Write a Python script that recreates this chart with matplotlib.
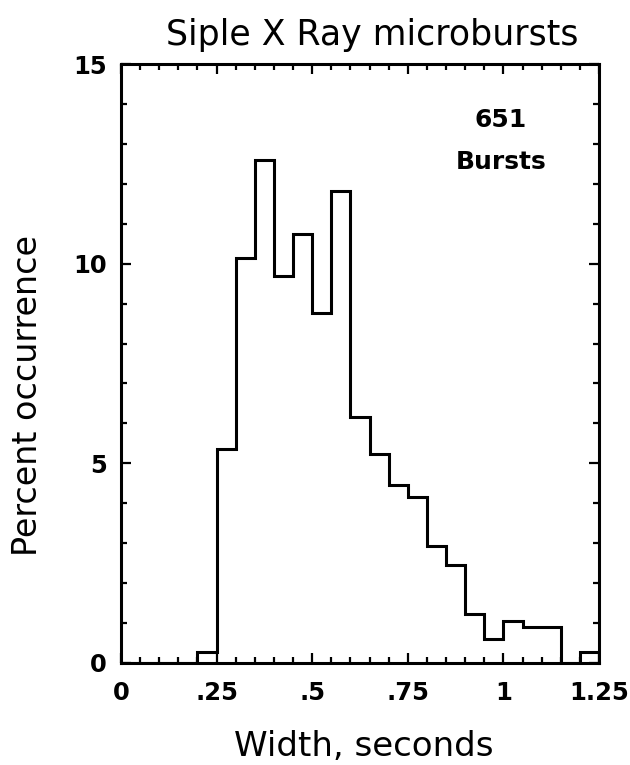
import matplotlib
matplotlib.use("Agg")
import matplotlib.pyplot as plt
from matplotlib.ticker import MultipleLocator, FixedLocator

plt.rcParams['font.family'] = ['DejaVu Sans']

bin_edges = [0.0, 0.05, 0.10, 0.15, 0.20, 0.25, 0.30, 0.35, 0.40, 0.45, 0.50,
             0.55, 0.60, 0.65, 0.70, 0.75, 0.80, 0.85, 0.90, 0.95, 1.00,
             1.05, 1.10, 1.15, 1.20, 1.25]
percent = [0.0, 0.0, 0.0, 0.0, 0.28, 5.35, 10.15, 12.6, 9.7, 10.75, 8.77,
           11.83, 6.15, 5.23, 4.46, 4.16, 2.92, 2.46, 1.22, 0.59, 1.04,
           0.9, 0.9, 0.0, 0.28]
x_ticks = [0, 0.25, 0.5, 0.75, 1.0, 1.25]
x_ticklabels = ['0', '.25', '.5', '.75', '1', '1.25']
y_ticks = [0, 5, 10, 15]
y_ticklabels = ['0', '5', '10', '15']

W, H = 630, 765
fig = plt.figure(figsize=(6.3, 7.65), dpi=100)
ax = fig.add_axes([121 / W, 1 - 663 / H, (599 - 121) / W, (663 - 64) / H])

ax.stairs(percent, bin_edges, color='black', linewidth=2.2)

ax.set_xlim(0, 1.25)
ax.set_ylim(0, 15)
ax.xaxis.set_major_locator(FixedLocator(x_ticks))
ax.set_xticklabels(x_ticklabels)
ax.yaxis.set_major_locator(FixedLocator(y_ticks))
ax.set_yticklabels(y_ticklabels)
ax.xaxis.set_minor_locator(MultipleLocator(0.05))
ax.yaxis.set_minor_locator(MultipleLocator(1))

ax.tick_params(which='both', direction='in', top=True, right=True, width=1.6,
               labelsize=17.5)
ax.tick_params(which='major', length=7)
ax.tick_params(which='minor', length=4)
ax.tick_params(axis='x', which='both', pad=13)
ax.tick_params(axis='y', which='both', pad=10)
for lab in ax.get_xticklabels() + ax.get_yticklabels():
    lab.set_fontweight('bold')
for s in ax.spines.values():
    s.set_linewidth(2.2)

fig.text(372 / W, 1 - 35 / H, 'Siple X Ray microbursts', ha='center', va='center',
         fontsize=25)
fig.text(364 / W, 1 - 746 / H, 'Width, seconds', ha='center', va='center',
         fontsize=24.5)
fig.text(28 / W, 1 - 395 / H, 'Percent occurrence', ha='center', va='center',
         rotation=90, fontsize=24)

ax.text(0.795, 0.907, '651', transform=ax.transAxes, ha='center', va='center',
        fontsize=18, fontweight='bold')
ax.text(0.795, 0.836, 'Bursts', transform=ax.transAxes, ha='center', va='center',
        fontsize=18, fontweight='bold')

fig.savefig('out.png', dpi=100)
